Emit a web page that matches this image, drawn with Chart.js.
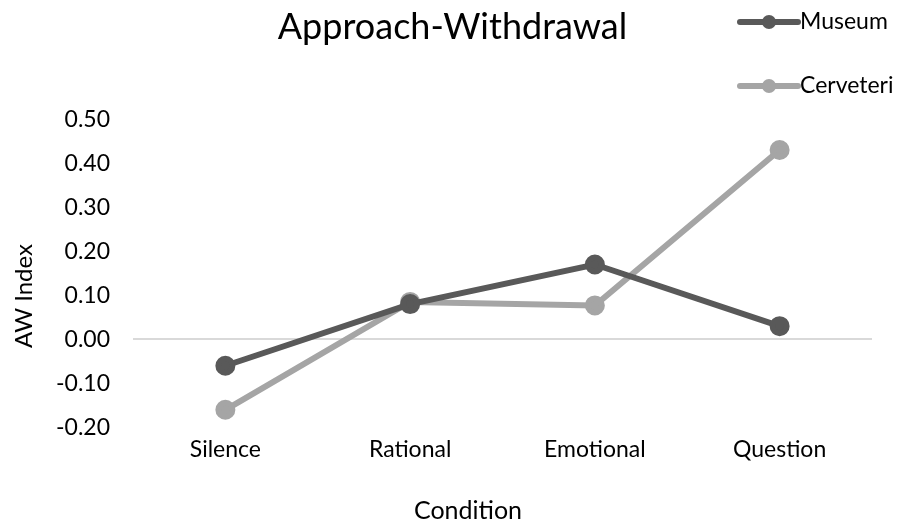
<!DOCTYPE html>
<html>
<head>
<meta charset="utf-8">
<script src="https://cdn.jsdelivr.net/npm/chart.js@4"></script>
<style>
  html, body { margin: 0; padding: 0; background: #fff; }
  #wrap { width: 901px; height: 525px; }
</style>
</head>
<body>
<div id="wrap"><canvas id="chart" width="901" height="525"></canvas></div>
<script>
// Data
const conditions = ['Silence', 'Rational', 'Emotional', 'Question'];
const museumValues = [-0.06, 0.08, 0.17, 0.03];
const cerveteriValues = [-0.16, 0.085, 0.077, 0.43];
const seriesNames = ['Museum', 'Cerveteri'];

const FONT = 'Lato, "Open Sans", sans-serif';
const darkGrey = '#595959';
const lightGrey = '#a5a5a5';

// Legend and axis titles drawn by hand, placed where the original puts them
const extras = {
    id: 'extras',
    afterDraw(chart) {
        const ctx = chart.ctx;
        const rows = [22, 86];
        chart.data.datasets.forEach((ds, i) => {
            const y = rows[i];
            ctx.save();
            ctx.strokeStyle = ds.borderColor;
            ctx.lineWidth = 6;
            ctx.lineCap = 'round';
            ctx.beginPath();
            ctx.moveTo(740, y);
            ctx.lineTo(798, y);
            ctx.stroke();
            ctx.fillStyle = ds.borderColor;
            ctx.beginPath();
            ctx.arc(769, y, 7, 0, Math.PI * 2);
            ctx.fill();
            ctx.fillStyle = '#000';
            ctx.font = '23px ' + FONT;
            ctx.textBaseline = 'middle';
            ctx.fillText(ds.label, 800, y);
            ctx.restore();
        });

        ctx.save();
        ctx.fillStyle = '#000';
        ctx.font = '25px ' + FONT;
        ctx.textAlign = 'center';
        ctx.textBaseline = 'middle';
        ctx.fillText('Condition', 468, 511);
        ctx.translate(24, 296);
        ctx.rotate(-Math.PI / 2);
        ctx.font = '24px ' + FONT;
        ctx.fillText('AW Index', 0, 0);
        ctx.restore();
    }
};

new Chart(document.getElementById('chart').getContext('2d'), {
    type: 'line',
    data: {
        labels: conditions,
        datasets: [{
            label: seriesNames[0],
            data: museumValues,
            borderColor: darkGrey,
            backgroundColor: darkGrey,
            borderWidth: 6,
            pointRadius: 7,
            pointHoverRadius: 7
        }, {
            label: seriesNames[1],
            data: cerveteriValues,
            borderColor: lightGrey,
            backgroundColor: lightGrey,
            borderWidth: 6,
            pointRadius: 7,
            pointHoverRadius: 7
        }]
    },
    options: {
        responsive: false,
        animation: false,
        layout: { padding: { top: 6, right: 29, left: 33, bottom: 54 } },
        plugins: {
            legend: { display: false },
            tooltip: { enabled: false },
            title: {
                display: true,
                text: 'Approach-Withdrawal',
                color: '#000',
                font: { family: FONT, size: 36, weight: 'normal' },
                padding: { top: 0, bottom: 70 }
            }
        },
        scales: {
            x: {
                offset: true,
                grid: { display: false, drawTicks: false },
                border: { display: false },
                ticks: { color: '#000', font: { family: FONT, size: 23 }, padding: 8 }
            },
            y: {
                min: -0.2,
                max: 0.5,
                grid: {
                    drawTicks: false,
                    color: ctx => Math.abs(ctx.tick.value) < 1e-9 ? '#d9d9d9' : 'transparent',
                    lineWidth: 2
                },
                border: { display: false },
                ticks: {
                    stepSize: 0.1,
                    color: '#000',
                    padding: 23,
                    font: { family: FONT, size: 23 },
                    callback: v => (Math.abs(v) < 1e-9 ? 0 : v).toFixed(2)
                }
            }
        }
    },
    plugins: [extras]
});
</script>
</body>
</html>
